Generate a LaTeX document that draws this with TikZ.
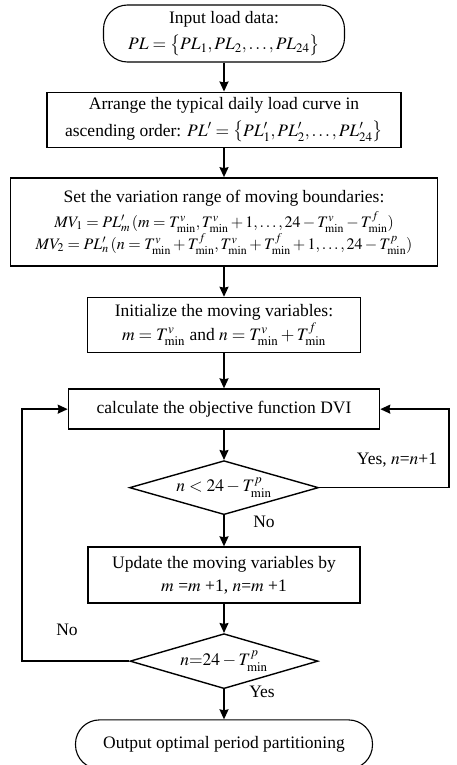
\documentclass[tikz,border=0pt]{standalone}
\usepackage{mathptmx}
\usepackage[no-math]{fontspec}
\setmainfont{Liberation Serif}
\usetikzlibrary{positioning,shapes.geometric,arrows.meta}

\begin{document}
\begin{tikzpicture}[x=1pt,y=-1pt,node distance=30pt,font=\fontsize{17.5}{23.5}\selectfont,
    box/.style={rectangle,draw,line width=1.6pt,align=center,inner sep=2pt},
    term/.style={rectangle,draw,line width=1.1pt,rounded corners=24pt,align=center},
    test/.style={diamond,draw,line width=1.4pt,aspect=3.5,inner sep=0pt},
    flow/.style={->,>={Stealth[length=10pt,width=9pt,inset=1pt]},line width=1.6pt}]
    \useasboundingbox (0,0) rectangle (456,765);
    \node[term,minimum width=241pt,minimum height=57pt] (start) at (224,33.5) {Input load data:\\[3pt] $PL=\bigl\{PL_1,PL_2,\ldots,PL_{24}\bigr\}$};
    \node[box,minimum width=354pt,minimum height=55pt,below=29pt of start] (sort) {Arrange the typical daily load curve in\\[3pt] ascending order: $PL'=\bigl\{PL'_1,PL'_2,\ldots,PL'_{24}\bigr\}$};
    \node[box,minimum width=427pt,minimum height=88pt,below=29pt of sort] (range) {Set the variation range of moving boundaries:\\[2pt]
        {\fontsize{16}{21}\selectfont$MV_1=PL'_m\,(m=T^{v}_{\mathrm{min}},T^{v}_{\mathrm{min}}+1,\ldots,24-T^{v}_{\mathrm{min}}-T^{f}_{\mathrm{min}})$}\\[-2pt]
        {\fontsize{16}{21}\selectfont$MV_2=PL'_n\,(n=T^{v}_{\mathrm{min}}+T^{f}_{\mathrm{min}},T^{v}_{\mathrm{min}}+T^{f}_{\mathrm{min}}+1,\ldots,24-T^{p}_{\mathrm{min}})$}};
    \node[box,minimum width=273pt,minimum height=55pt,below=of range] (init) {Initialize the moving variables:\\ $m=T^{v}_{\mathrm{min}}$ and $n=T^{v}_{\mathrm{min}}+T^{f}_{\mathrm{min}}$};
    \node[box,minimum width=311pt,minimum height=40pt,below=35pt of init] (calc) {calculate the objective function DVI};
    \node[test,minimum width=189pt,minimum height=54pt,below=of calc] (chk1) {$n<24-T^{p}_{\mathrm{min}}$};
    \node[box,minimum width=272pt,minimum height=56pt,below=31pt of chk1] (update) {Update the moving variables by\\ $m$ =$m$ +1, $n$=$m$ +1};
    \node[test,minimum width=188pt,minimum height=55pt,below=29pt of update] (chk2) {$n{=}24-T^{p}_{\mathrm{min}}$};
    \node[term,minimum width=297pt,minimum height=49pt,below=of chk2] (stop) {Output optimal period partitioning};
    % branch labels
    \node (yes1) at (397,460) {Yes, $n$=$n$+1};
    \node (no1) at (264,522) {No};
    \node (no2) at (67,630) {No};
    \node (yes2) at (262,692) {Yes};
    \coordinate (rgt) at (449,0);
    \coordinate (lft) at (22,0);
    \draw[flow] (start)--(sort);
    \draw[flow] (sort)--(range);
    \draw[flow] (range)--(init);
    \draw[flow] (init)--(calc);
    \draw[flow] (calc)--(chk1);
    \draw[flow] (chk1)--(update);
    \draw[flow] (update)--(chk2);
    \draw[flow] (chk2)--(stop);
    \draw[flow] (chk1.east) -- (chk1.east -| rgt) |- (calc.east);
    \draw[flow] (chk2.west) -- (chk2.west -| lft) |- (calc.west);
\end{tikzpicture}
\end{document}
